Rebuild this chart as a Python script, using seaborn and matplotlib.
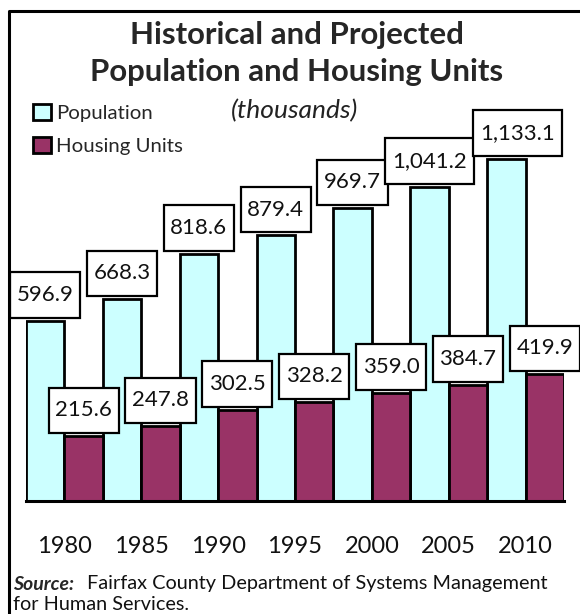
import matplotlib
matplotlib.use("Agg")
import matplotlib.pyplot as plt
from matplotlib.lines import Line2D
import pandas as pd
import seaborn as sns

years = ["1980", "1985", "1990", "1995", "2000", "2005", "2010"]
population = [596.9, 668.3, 818.6, 879.4, 969.7, 1041.2, 1133.1]
housing = [215.6, 247.8, 302.5, 328.2, 359.0, 384.7, 419.9]
series = ["Population", "Housing Units"]
colors = ["#CCFFFF", "#993366"]

df = pd.DataFrame({
    "year": years * 2,
    "series": [series[0]] * len(years) + [series[1]] * len(years),
    "value": population + housing,
})

sns.set_style("white")
plt.rcParams["font.family"] = ["Lato", "DejaVu Sans"]

W, H = 580, 614
fig = plt.figure(figsize=(5.8, 6.14), dpi=100)
ax = fig.add_axes([26 / W, 113 / H, 538 / W, 489 / H])

sns.barplot(data=df, x="year", y="value", hue="series", hue_order=series,
            palette=colors, saturation=1, width=1.0, edgecolor="black",
            linewidth=2, ax=ax)

ax.set_xlim(-0.5, len(years) - 0.5)
ax.set_ylim(0, 489 / 0.302)
ax.set_xlabel("")
ax.set_ylabel("")
ax.set_yticks([])
for s in ["left", "right", "top"]:
    ax.spines[s].set_visible(False)
ax.spines["bottom"].set_linewidth(2.2)
ax.spines["bottom"].set_color("black")
ax.tick_params(axis="x", length=0, pad=25, labelsize=17, colors="#111111")

# value labels in boxes
for i, (p, h) in enumerate(zip(population, housing)):
    for k, (xpos, v) in enumerate([(i - 0.25, p), (i + 0.25, h)]):
        dx = 8 if (k == 0 and i == len(years) - 1) else 0
        ax.annotate(f"{v:,.1f}", xy=(xpos, v), xytext=(dx, 18.5),
                    textcoords="offset points", ha="center", va="center",
                    fontsize=16, color="#111111", annotation_clip=False,
                    bbox=dict(boxstyle="square,pad=0.3", fc="white",
                              ec="black", lw=1.6, mutation_aspect=1.9))

# legend
handles, labels = ax.get_legend_handles_labels()
ax.get_legend().remove()
fig.legend(handles, labels, loc="upper left",
           bbox_to_anchor=(23 / W, 1 - 94 / H), frameon=False,
           fontsize=14.7, handlelength=0.85, handleheight=0.85,
           handletextpad=0.25, labelspacing=0.72, borderpad=0)

# titles
fig.text(297 / W, 1 - 35 / H, "Historical and Projected",
         ha="center", va="center", fontsize=22.4, fontweight="bold")
fig.text(297 / W, 1 - 72 / H, "Population and Housing Units",
         ha="center", va="center", fontsize=22.4, fontweight="bold")
fig.text(295 / W, 1 - 111 / H, "(thousands)", ha="center", va="center",
         fontsize=19, style="italic", color="#222222")

# source
fig.text(13 / W, 1 - 584 / H, "Source:", ha="left", va="center",
         fontsize=14, fontweight="bold", style="italic")
fig.text(87 / W, 1 - 584 / H, "Fairfax County Department of Systems Management",
         ha="left", va="center", fontsize=14.3, color="#111111")
fig.text(13 / W, 1 - 604 / H, "for Human Services.", ha="left",
         va="center", fontsize=14.3, color="#111111")

# outer frame (only left and top edges show)
x0, y0 = 9 / W, 1 - 11 / H
fig.lines.append(Line2D([x0, x0, 1.0], [0.0, y0, y0],
                        transform=fig.transFigure, color="black", lw=2.2))

fig.savefig("out.png", dpi=100)
